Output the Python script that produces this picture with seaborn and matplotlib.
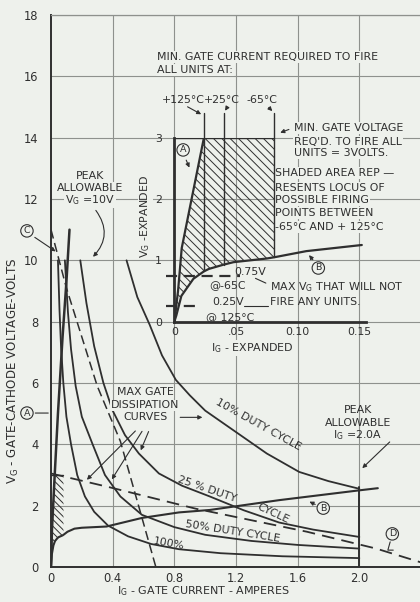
import matplotlib
matplotlib.use("Agg")
import matplotlib.pyplot as plt
import seaborn as sns
from matplotlib.patches import Polygon

sns.set_theme(style="white")
plt.rcParams['font.family'] = ['DejaVu Sans']
plt.rcParams['hatch.linewidth'] = 0.7

BG = '#eef1ec'
INK = '#2f2f2f'
GRID = '#8e918d'

# ---- main scale: gate current (A) vs gate-cathode voltage (V) ----
x_ticks = [0, 0.4, 0.8, 1.2, 1.6, 2.0]
x_tick_labels = ["0", "0.4", "0.8", "1.2", "1.6", "2.0"]
y_ticks = [0, 2, 4, 6, 8, 10, 12, 14, 16, 18]
y_tick_labels = ["0", "2", "4", "6", "8", "10", "12", "14", "16", "18"]

# max gate dissipation curves
i_10 = [0.49, 0.56, 0.64, 0.72, 0.81, 0.9, 1.0, 1.2, 1.4, 1.61, 1.8, 2.0]
v_10 = [10.0, 8.8, 7.9, 6.9, 6.1, 5.6, 5.1, 4.4, 3.7, 3.1, 2.8, 2.55]
i_25 = [0.19, 0.23, 0.28, 0.34, 0.4, 0.48, 0.57, 0.7, 0.85, 1.03, 1.25, 1.48, 1.7, 2.0]
v_25 = [10.0, 8.6, 7.2, 6.0, 5.1, 4.3, 3.7, 3.05, 2.65, 2.3, 1.85, 1.45, 1.22, 0.98]
i_50 = [0.09, 0.11, 0.13, 0.16, 0.2, 0.27, 0.35, 0.45, 0.59, 0.8, 1.0, 1.3, 1.6, 2.0]
v_50 = [10.0, 8.3, 7.1, 5.9, 4.9, 4.0, 3.0, 2.3, 1.7, 1.3, 1.05, 0.85, 0.72, 0.6]
i_100 = [0.045, 0.055, 0.065, 0.08, 0.1, 0.13, 0.17, 0.22, 0.28, 0.37, 0.5, 0.65, 0.83, 1.1, 1.5, 2.0]
v_100 = [10.0, 8.4, 7.2, 6.0, 4.9, 4.0, 3.0, 2.3, 1.8, 1.35, 1.0, 0.75, 0.58, 0.45, 0.35, 0.29]

# curve A: firing limit, curve B: non-firing limit
i_a = [0.0, 0.003, 0.006, 0.024, 0.045, 0.075, 0.1, 0.12]
v_a = [0.0, 0.5, 1.2, 3.0, 5.0, 7.5, 9.3, 11.0]
i_b = [0.0, 0.0016, 0.0057, 0.0155, 0.024, 0.028, 0.04, 0.048, 0.075, 0.081,
       0.107, 0.152, 0.2, 0.36, 0.59, 0.83, 1.03, 1.48, 2.0, 2.12]
v_b = [0.0, 0.1, 0.42, 0.7, 0.82, 0.86, 0.93, 0.97, 1.03, 1.05,
       1.15, 1.25, 1.28, 1.32, 1.6, 1.78, 1.86, 2.18, 2.5, 2.57]

# load lines C and D
i_c = [0.0, 0.1, 0.3, 0.45, 0.68]
v_c = [11.0, 9.1, 5.9, 4.1, 0.0]
i_d = [0.0, 0.38, 0.94, 1.66, 2.11, 2.4]
v_d = [3.05, 2.6, 1.9, 1.15, 0.6, 0.15]

peak_ig = 2.0
peak_ig_v = 2.6
min_fire_v = 3.0

# minimum firing currents at +125, +25, -65 degC
temp_i = [0.024, 0.040, 0.081]
temp_v_low = [0.82, 0.93, 1.05]
temp_v_top = 3.4

# max non-firing voltages
nofire_v = [0.75, 0.25]
nofire_i_end = [0.053, 0.022]

# ---- figure ----
fig = plt.figure(figsize=(4.2, 6.02), dpi=100, facecolor=BG)
ax = fig.add_axes([51 / 420, 35 / 602, 370 / 420, 552 / 602])
ax.set_facecolor(BG)
ax.set_xlim(0, 2.4)
ax.set_ylim(0, 18)

ax.spines['right'].set_visible(False)
ax.spines['top'].set_color(GRID)
ax.spines['top'].set_linewidth(0.9)
for s in ['left', 'bottom']:
    ax.spines[s].set_color(INK)
    ax.spines[s].set_linewidth(1.4)

ax.set_xticks(x_ticks, x_tick_labels)
ax.set_yticks(y_ticks, y_tick_labels)
ax.tick_params(axis='both', length=0, labelsize=8.3, colors=INK)
ax.tick_params(axis='x', pad=3.5)
ax.tick_params(axis='y', pad=9)
for x in x_ticks[1:] + [2.4]:
    ax.axvline(x, color=GRID, lw=0.8, zorder=0)
for y in y_ticks[1:]:
    ax.axhline(y, color=GRID, lw=0.8, zorder=0)

line_kw = dict(ax=ax, color=INK, sort=False, estimator=None, legend=False)
for xs, ys in [(i_10, v_10), (i_25, v_25), (i_50, v_50), (i_100, v_100)]:
    sns.lineplot(x=xs, y=ys, linewidth=1.3, **line_kw)
sns.lineplot(x=i_a, y=v_a, linewidth=1.8, **line_kw)
sns.lineplot(x=i_b, y=v_b, linewidth=1.5, **line_kw)
sns.lineplot(x=i_c, y=v_c, linewidth=1.1, linestyle=(0, (6, 3)), **line_kw)
sns.lineplot(x=i_d, y=v_d, linewidth=1.3, linestyle=(0, (7, 4)), **line_kw)
ax.plot([peak_ig, peak_ig], [0, peak_ig_v], color=INK, lw=1.4)


def firing_region(axis, hatch):
    # area between curve A, the 3 V line, the -65 C current and curve B
    pts = [(0.0, 0.0)]
    pts += [(i, v) for i, v in zip(i_a, v_a) if 0 < v <= min_fire_v]
    pts += [(temp_i[2], min_fire_v)]
    pts += [(i, v) for i, v in zip(i_b, v_b) if i <= temp_i[2]][::-1]
    axis.add_patch(Polygon(pts, closed=True, facecolor='none', edgecolor=INK,
                           hatch=hatch, lw=0.0, zorder=1))


firing_region(ax, '\\' * 5)
ax.plot([0, temp_i[2]], [min_fire_v, min_fire_v], color=INK, lw=1.0)

# ---- expanded view of the firing region ----
ins = ax.inset_axes([0.8, 8, 1.24, 6], transform=ax.transData)
ins.set_facecolor('none')
ins.set_xlim(0, 0.155)
ins.set_ylim(0, 3)
for s in ['top', 'right']:
    ins.spines[s].set_visible(False)
for s in ['left', 'bottom']:
    ins.spines[s].set_color(INK)
    ins.spines[s].set_linewidth(2.0)
ins.set_xticks([0, 0.05, 0.10, 0.15], ["0", ".05", "0.10", "0.15"])
ins.set_yticks([0, 1, 2, 3], ["0", "1", "2", "3"])
ins.tick_params(axis='both', length=0, labelsize=7.8, colors=INK)
ins.tick_params(axis='x', pad=4)
ins.tick_params(axis='y', pad=9)
ins.grid(False)

ins_kw = dict(ax=ins, color=INK, sort=False, estimator=None, legend=False)
sns.lineplot(x=[i for i, v in zip(i_a, v_a) if v <= 3.1],
             y=[v for v in v_a if v <= 3.1], linewidth=1.6, **ins_kw)
sns.lineplot(x=[i for i in i_b if i <= 0.152],
             y=[v for i, v in zip(i_b, v_b) if i <= 0.152], linewidth=1.6, **ins_kw)
firing_region(ins, '\\' * 4)
ins.plot([0, temp_i[2]], [min_fire_v, min_fire_v], color=INK, lw=1.0)
for i, lo in zip(temp_i, temp_v_low):
    ins.plot([i, i], [lo, temp_v_top], color=INK, lw=1.0, clip_on=False)
for v, end in zip(nofire_v, nofire_i_end):
    ins.plot([-0.0065, end], [v, v], color=INK, lw=1.6,
             linestyle=(0, (5, 3)), clip_on=False)

# ---- lettering ----
box = dict(facecolor=BG, edgecolor='none', pad=0.6)
FS = 7.9


def note(x, y, s, ha='left', va='center', bb=True, fs=FS, **kw):
    ax.text(x, y, s, ha=ha, va=va, bbox=box if bb else None, color=INK,
            fontsize=fs, **kw)


def block(x, ys, lines, ha='left', bb=True, fs=FS):
    for y, s in zip(ys, lines):
        note(x, y, s, ha=ha, bb=bb, fs=fs)


def circ(x, y, s):
    ax.text(x, y, s, ha='center', va='center', fontsize=6.8, color=INK,
            bbox=dict(boxstyle='circle,pad=0.18', facecolor=BG, edgecolor=INK,
                      lw=0.8), zorder=6, clip_on=False)


arrow = dict(arrowstyle='-|>', color=INK, lw=0.8, mutation_scale=6)
plain = dict(arrowstyle='-', color=INK, lw=0.8)

ax.text(-0.245, 6.4, r"V$_\mathregular{G}$ - GATE-CATHODE VOLTAGE-VOLTS", rotation=90,
        ha='center', va='center', fontsize=8.6, color=INK)
ax.text(0.99, -0.8, r"I$_\mathregular{G}$ - GATE CURRENT - AMPERES", ha='center',
        va='center', fontsize=8.0, color=INK)

block(0.69, [16.63, 16.2], ["MIN. GATE CURRENT REQUIRED TO FIRE", "ALL UNITS AT:"])
note(0.857, 15.23, "+125°C", ha='center', bb=False)
note(1.11, 15.23, "+25°C", ha='center', bb=False)
note(1.37, 15.23, "-65°C", ha='center', bb=False)
ax.annotate("", xy=(0.99, 14.72), xytext=(0.87, 15.05), arrowprops=arrow)
ax.annotate("", xy=(1.12, 14.8), xytext=(1.15, 15.05), arrowprops=arrow)
ax.annotate("", xy=(1.448, 14.8), xytext=(1.40, 15.05), arrowprops=arrow)

block(1.575, [14.31, 13.87, 13.49],
      ["MIN. GATE VOLTAGE", "REQ'D. TO FIRE ALL", "UNITS = 3VOLTS."])
ax.annotate("", xy=(1.47, 14.13), xytext=(1.56, 14.3), arrowprops=arrow)
block(1.455, [12.85, 12.36, 11.97, 11.54, 11.09],
      ["SHADED AREA REP —", "RESENTS LOCUS OF", "POSSIBLE FIRING",
       "POINTS BETWEEN", "-65°C AND + 125°C"])

note(1.292, 9.62, "0.75V", ha='center', bb=False)
note(1.143, 9.19, "@-65C", ha='center', bb=False)
note(1.149, 8.64, "0.25V", ha='center', bb=False)
note(1.162, 8.15, "@ 125°C", ha='center', bb=False)
note(1.42, 9.13, r"MAX V$_\mathregular{G}$ THAT WILL NOT", bb=False)
note(1.42, 8.64, "FIRE ANY UNITS.", bb=False)
ax.annotate("", xy=(1.31, 9.45), xytext=(1.41, 9.22), arrowprops=plain)
ax.plot([1.25, 1.41], [8.5, 8.5], color=INK, lw=0.8)

ax.text(0.612, 11.44, r"V$_\mathregular{G}$ -EXPANDED", rotation=90, ha='center',
        va='center', fontsize=FS, color=INK, bbox=box)
note(1.305, 7.14, r"I$_\mathregular{G}$ - EXPANDED", ha='center')

block(0.255, [12.75, 12.36, 11.97], ["PEAK", "ALLOWABLE", r"V$_\mathregular{G}$ =10V"],
      ha='center')
ax.annotate("", xy=(0.26, 10.05), xytext=(0.28, 11.7),
            arrowprops=dict(arrowstyle='-|>', color=INK, lw=0.8, mutation_scale=6,
                            connectionstyle='arc3,rad=-0.45'))

block(0.61, [5.71, 5.27, 4.88], ["MAX GATE", "DISSIPATION", "CURVES"], ha='center')
ax.annotate("", xy=(1.0, 4.88), xytext=(0.82, 4.88), arrowprops=arrow)
ax.annotate("", xy=(0.22, 2.78), xytext=(0.56, 4.5), arrowprops=arrow)
ax.annotate("", xy=(0.385, 2.78), xytext=(0.6, 4.5), arrowprops=arrow)
ax.annotate("", xy=(0.575, 3.72), xytext=(0.64, 4.5), arrowprops=arrow)

rot = dict(ha='center', bb=False, rotation_mode='anchor')
note(1.344, 4.63, "10% DUTY CYCLE", rotation=-29, **rot)
note(1.013, 2.54, "25 % DUTY", rotation=-19, **rot)
note(1.44, 1.73, "CYCLE", rotation=-25, **rot)
note(1.18, 1.17, "50% DUTY CYCLE", rotation=-9, **rot)
note(0.766, 0.75, "100%", rotation=-10, **rot)

block(1.99, [5.12, 4.70, 4.30], ["PEAK", "ALLOWABLE", r"I$_\mathregular{G}$ =2.0A"],
      ha='center', bb=False)
ax.annotate("", xy=(2.006, 3.16), xytext=(2.21, 4.14), arrowprops=arrow)

circ(-0.156, 10.96, "C")
ax.annotate("", xy=(0.045, 10.24), xytext=(-0.12, 10.8), arrowprops=arrow,
            annotation_clip=False)
circ(-0.156, 5.02, "A")
ax.annotate("", xy=(0.0, 5.02), xytext=(-0.12, 5.02), arrowprops=plain,
            annotation_clip=False)
circ(0.857, 13.6, "A")
ax.annotate("", xy=(0.905, 12.94), xytext=(0.87, 13.35), arrowprops=arrow)
circ(1.734, 9.75, "B")
ax.annotate("", xy=(1.662, 10.24), xytext=(1.71, 9.95), arrowprops=arrow)
circ(1.766, 1.92, "B")
ax.annotate("", xy=(1.66, 2.17), xytext=(1.73, 2.0), arrowprops=arrow)
circ(2.214, 1.08, "D")
ax.plot([2.2, 2.185, 2.22], [0.82, 0.55, 0.55], color=INK, lw=0.8)

fig.savefig("out.png", dpi=100, facecolor=BG)
